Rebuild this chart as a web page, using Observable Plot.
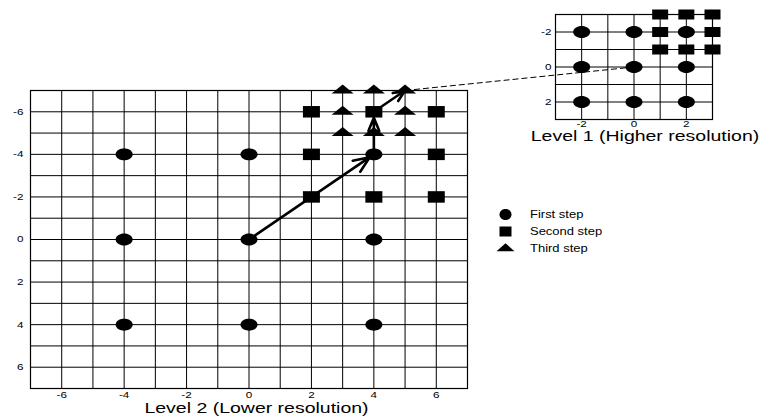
<!DOCTYPE html>
<html><head><meta charset="utf-8">
<script src="https://cdn.jsdelivr.net/npm/d3@7"></script>
<script src="https://cdn.jsdelivr.net/npm/@observablehq/plot@0.6"></script>
<style>
html,body{margin:0;padding:0;background:#fff;}
#chart{position:relative;width:760px;height:419px;overflow:hidden;font-family:"Liberation Sans",Arial,sans-serif;}
#chart svg{position:absolute;left:0;top:0;overflow:visible;}
</style></head><body><div id="chart"></div>
<script>
// ---- data ----
const level2TicksX = [-6, -4, -2, 0, 2, 4, 6];
const level2TicksY = [-6, -4, -2, 0, 2, 4, 6];
const level2Grid = [-7, -6, -5, -4, -3, -2, -1, 0, 1, 2, 3, 4, 5, 6, 7];
const level1TicksX = [-2, 0, 2];
const level1TicksY = [-2, 0, 2];
const level1Grid = [-3, -2, -1, 0, 1, 2, 3];

const level2First = [[-4,-4],[0,-4],[4,-4],[-4,0],[0,0],[4,0],[-4,4],[0,4],[4,4]];
const level2Second = [[2,-6],[4,-6],[6,-6],[2,-4],[6,-4],[2,-2],[4,-2],[6,-2]];
const level2Third = [[3,-7],[4,-7],[5,-7],[3,-6],[5,-6],[3,-5],[4,-5],[5,-5]];
const searchPath = [[0,0],[4,-4],[4,-6],[5,-7]];

const level1First = [[-2,-2],[0,-2],[2,-2],[-2,0],[0,0],[2,0],[-2,2],[0,2],[2,2]];
const level1Second = [[1,-3],[2,-3],[3,-3],[1,-2],[3,-2],[1,-1],[2,-1],[3,-1]];

const zoomFromLevel2 = [5, -7];
const zoomToLevel1 = [0, 0];

const legendLabels = ["First step", "Second step", "Third step"];
const title2 = "Level 2 (Lower resolution)";
const title1 = "Level 1 (Higher resolution)";

// ---- layout ----
const W = 760, H = 419;
const M2 = {left: 30, right: 293, top: 90, bottom: 31};
const M1 = {left: 555, right: 48, top: 14, bottom: 300};
const FONT = "Liberation Sans, Arial, sans-serif";
const SX = 1.3; // horizontal stretch of the reference's lettering

function ellipse(rx, ry) {
  return {draw(ctx) {
    const n = 40; ctx.moveTo(rx, 0);
    for (let i = 1; i < n; i++) { const a = 2 * Math.PI * i / n; ctx.lineTo(rx * Math.cos(a), ry * Math.sin(a)); }
    ctx.closePath();
  }};
}
function rect(w, h) {
  return {draw(ctx) {
    ctx.moveTo(-w/2, -h/2); ctx.lineTo(w/2, -h/2); ctx.lineTo(w/2, h/2); ctx.lineTo(-w/2, h/2); ctx.closePath();
  }};
}
function tri(w, h) {
  return {draw(ctx) {
    ctx.moveTo(0, -h * 2/3); ctx.lineTo(w/2, h/3); ctx.lineTo(-w/2, h/3); ctx.closePath();
  }};
}
const px = d => d[0], py = d => d[1];
const fmt = d => String(d);

const x2s = Plot.scale({x: {domain: [-7, 7], range: [M2.left, W - M2.right]}});
const y2s = Plot.scale({y: {domain: [-7, 7], range: [M2.top, H - M2.bottom]}});
const x1s = Plot.scale({x: {domain: [-3, 3], range: [M1.left, W - M1.right]}});
const y1s = Plot.scale({y: {domain: [-3, 3], range: [M1.top, H - M1.bottom]}});

const zoomLink = [{
  x1: zoomFromLevel2[0], y1: zoomFromLevel2[1],
  x2: x2s.invert(x1s.apply(zoomToLevel1[0])), y2: y2s.invert(y1s.apply(zoomToLevel1[1]))
}];

const segments = searchPath.slice(1).map((p, i) => ({x1: searchPath[i][0], y1: searchPath[i][1], x2: p[0], y2: p[1]}));
const arrowOpts = {x1: "x1", y1: "y1", x2: "x2", y2: "y2", stroke: "black", strokeWidth: 2.6, headLength: 10, headAngle: 45};

const main = Plot.plot({
  width: W, height: H,
  marginLeft: M2.left, marginRight: M2.right, marginTop: M2.top, marginBottom: M2.bottom,
  x: {domain: [-7, 7]}, y: {domain: [-7, 7], reverse: true},
  style: {background: "transparent", fontFamily: FONT},
  marks: [
    Plot.gridX(level2Grid, {stroke: "black", strokeOpacity: 1, strokeWidth: 1}),
    Plot.gridY(level2Grid, {stroke: "black", strokeOpacity: 1, strokeWidth: 1}),
    Plot.frame({stroke: "black", strokeWidth: 1.2}),
    Plot.axisX({ticks: level2TicksX, tickSize: 0, tickPadding: 3.5, fontSize: 9, tickFormat: fmt, label: null}),
    Plot.axisY({ticks: level2TicksY, tickSize: 0, tickPadding: 7, fontSize: 9, tickFormat: fmt, label: null}),
    Plot.link(zoomLink, {x1: "x1", y1: "y1", x2: "x2", y2: "y2", stroke: "black", strokeWidth: 1, strokeDasharray: "6,3"}),
    Plot.dot(level2First, {x: px, y: py, symbol: ellipse(8.5, 6), fill: "black", stroke: "none"}),
    Plot.dot(level2Second, {x: px, y: py, symbol: rect(17, 11.5), fill: "black", stroke: "none"}),
    Plot.dot(level2Third, {x: px, y: py, symbol: tri(22, 9), fill: "black", stroke: "none"}),
    Plot.arrow(segments.slice(0, 1), {...arrowOpts, insetEnd: 5}),
    Plot.arrow(segments.slice(1, 2), {...arrowOpts, insetEnd: 6}),
    Plot.arrow(segments.slice(2, 3), {...arrowOpts, insetEnd: 0}),
    Plot.text([title2], {text: d => d, frameAnchor: "bottom", dx: 7.5, dy: 24, fontSize: 15, fill: "black"})
  ]
});

const level1 = Plot.plot({
  width: W, height: H,
  marginLeft: M1.left, marginRight: M1.right, marginTop: M1.top, marginBottom: M1.bottom,
  x: {domain: [-3, 3]}, y: {domain: [-3, 3], reverse: true},
  style: {background: "transparent", fontFamily: FONT},
  marks: [
    Plot.gridX(level1Grid, {stroke: "black", strokeOpacity: 1, strokeWidth: 1}),
    Plot.gridY(level1Grid, {stroke: "black", strokeOpacity: 1, strokeWidth: 1}),
    Plot.frame({stroke: "black", strokeWidth: 1.2}),
    Plot.axisX({ticks: level1TicksX, tickSize: 0, tickPadding: 1.5, fontSize: 9, tickFormat: fmt, label: null}),
    Plot.axisY({ticks: level1TicksY, tickSize: 0, tickPadding: 4, fontSize: 9, tickFormat: fmt, label: null}),
    Plot.dot(level1First, {x: px, y: py, symbol: ellipse(8.5, 6), fill: "black", stroke: "none"}),
    Plot.dot(level1Second, {x: px, y: py, symbol: rect(16, 10), fill: "black", stroke: "none"}),
    Plot.text([title1], {text: d => d, frameAnchor: "bottom", dx: 11, dy: 21, fontSize: 15, fill: "black"})
  ]
});

const legendSymbols = [ellipse(6, 5.5), rect(12, 10), tri(18, 8)];
const legend = Plot.plot({
  width: W, height: H,
  marginLeft: 505, marginRight: 100, marginTop: 213, marginBottom: 171,
  y: {type: "point", domain: legendLabels, padding: 0, axis: null},
  style: {background: "transparent", fontFamily: FONT},
  marks: [
    ...legendLabels.map((lab, i) => Plot.dot([lab], {y: d => d, frameAnchor: "left", symbol: legendSymbols[i], fill: "black", stroke: "none"})),
    Plot.text(legendLabels, {y: d => d, text: d => d, frameAnchor: "left", dx: 24.5, textAnchor: "start", fontSize: 10, fill: "black"})
  ]
});

const chart = document.getElementById("chart");
chart.append(main, level1, legend);

// stretch lettering horizontally about each text's anchor, as in the reference
const NS = "http://www.w3.org/2000/svg";
for (const t of Array.from(chart.querySelectorAll("text"))) {
  const bb = t.getBBox();
  const anchor = getComputedStyle(t).textAnchor;
  const ax = anchor === "middle" ? bb.x + bb.width / 2 : anchor === "end" ? bb.x + bb.width : bb.x;
  const g = document.createElementNS(NS, "g");
  const tr = t.getAttribute("transform");
  if (tr) { g.setAttribute("transform", tr); t.removeAttribute("transform"); }
  t.parentNode.insertBefore(g, t);
  g.appendChild(t);
  t.setAttribute("transform", `translate(${ax},0) scale(${SX},1) translate(${-ax},0)`);
}
</script>
</body></html>
